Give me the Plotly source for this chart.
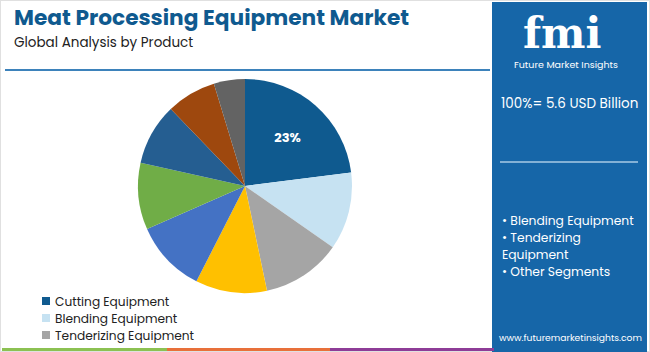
import plotly.graph_objects as go

# Data
segments = ["Cutting Equipment", "Blending Equipment", "Tenderizing Equipment",
            "Segment 4", "Segment 5", "Segment 6", "Segment 7", "Segment 8", "Segment 9"]
shares = [23.0, 11.7, 12.0, 10.8, 10.9, 10.1, 9.3, 7.5, 4.7]
slice_colors = ["#0f5a8f", "#c6e2f2", "#a5a5a5", "#ffc000", "#4472c4",
                "#70ad47", "#255e91", "#9e480e", "#636363"]
slice_text = ["<b>23%</b>", "", "", "", "", "", "", "", ""]
legend_items = ["Cutting Equipment", "Blending Equipment", "Tenderizing Equipment"]
panel_bullets = ["• Blending Equipment", "• Tenderizing", "Equipment", "• Other Segments"]

W, H = 650, 352
TITLE_C = "#0f5a8f"
PANEL_C = "#1666a8"
FONT = "Poppins, Open Sans"

fig = go.Figure()
fig.add_trace(go.Pie(
    labels=segments, values=shares, sort=False, direction="clockwise", rotation=0,
    marker=dict(colors=slice_colors, line=dict(width=0)),
    text=slice_text, textinfo="text", textposition="inside",
    insidetextfont=dict(color="white", size=13, family=FONT),
    insidetextorientation="horizontal",
    domain=dict(x=[138 / W, 352 / W], y=[(H - 293) / H, (H - 79) / H]),
    showlegend=False, hoverinfo="label+percent",
))

shapes = []
ann = []
# outer border
shapes.append(dict(type="rect", xref="paper", yref="paper", x0=0, x1=1, y0=0, y1=1,
                   line=dict(color="#e0e0e0", width=2), fillcolor="rgba(0,0,0,0)", layer="below"))
# header rule
shapes.append(dict(type="line", xref="paper", yref="paper", x0=5 / W, x1=490 / W,
                   y0=1 - 70 / H, y1=1 - 70 / H, line=dict(color="#3d82bb", width=2)))
# right panel
shapes.append(dict(type="rect", xref="paper", yref="paper", x0=492 / W, x1=647 / W,
                   y0=0, y1=1 - 2 / H, line=dict(width=0), fillcolor=PANEL_C, layer="below"))
# panel divider
shapes.append(dict(type="line", xref="paper", yref="paper", x0=500 / W, x1=638 / W,
                   y0=1 - 162 / H, y1=1 - 162 / H, line=dict(color="#a9cbe6", width=1.5)))
# bottom stripes
for x0, x1, c in [(2, 167, "#8cc152"), (167, 330, "#e8703a"), (330, 494, "#8e3c97")]:
    shapes.append(dict(type="rect", xref="paper", yref="paper", x0=x0 / W, x1=x1 / W,
                       y0=1 / H, y1=4 / H, line=dict(width=0), fillcolor=c))

# titles
ann.append(dict(text="<b>Meat Processing Equipment Market</b>", x=12 / W, y=1 - 17 / H,
                xref="paper", yref="paper", xanchor="left", yanchor="middle", showarrow=False,
                font=dict(family=FONT, size=21.7, color=TITLE_C)))
ann.append(dict(text="Global Analysis by Product", x=12 / W, y=1 - 42 / H,
                xref="paper", yref="paper", xanchor="left", yanchor="middle", showarrow=False,
                font=dict(family=FONT, size=13.5, color="#222222")))

# legend (manual)
for i, (lab, col) in enumerate(zip(legend_items, slice_colors[:3])):
    yc = 301 + i * 17
    shapes.append(dict(type="rect", xref="paper", yref="paper", x0=42 / W, x1=50 / W,
                       y0=1 - (yc + 4) / H, y1=1 - (yc - 4) / H, line=dict(width=0), fillcolor=col))
    ann.append(dict(text=lab, x=53 / W, y=1 - yc / H, xref="paper", yref="paper",
                    xanchor="left", yanchor="middle", showarrow=False,
                    font=dict(family=FONT, size=12.2, color="#222222")))

# logo
ann.append(dict(text="<b>fmi</b>", x=562 / W, y=1 - 33 / H, xref="paper", yref="paper",
                xanchor="center", yanchor="middle", showarrow=False,
                font=dict(family="DejaVu Serif", size=42, color="white")))
ann.append(dict(text="Future Market Insights", x=566 / W, y=1 - 64 / H, xref="paper", yref="paper",
                xanchor="center", yanchor="middle", showarrow=False,
                font=dict(family=FONT, size=9.5, color="white")))
# panel texts
ann.append(dict(text="100%= 5.6 USD Billion", x=569 / W, y=1 - 103 / H, xref="paper", yref="paper",
                xanchor="center", yanchor="middle", showarrow=False,
                font=dict(family=FONT, size=13.5, color="white")))
for i, t in enumerate(panel_bullets):
    ann.append(dict(text=t, x=500 / W, y=1 - (220 + i * 17.3) / H, xref="paper", yref="paper",
                    xanchor="left", yanchor="middle", showarrow=False,
                    font=dict(family=FONT, size=12.3, color="white")))
ann.append(dict(text="www.futuremarketinsights.com", x=570 / W, y=1 - 337 / H, xref="paper", yref="paper",
                xanchor="center", yanchor="middle", showarrow=False,
                font=dict(family=FONT, size=9.2, color="white")))

fig.update_layout(width=W, height=H, margin=dict(l=0, r=0, t=0, b=0),
                  paper_bgcolor="white", plot_bgcolor="white",
                  shapes=shapes, annotations=ann, showlegend=False)
fig.write_html("out.html")
